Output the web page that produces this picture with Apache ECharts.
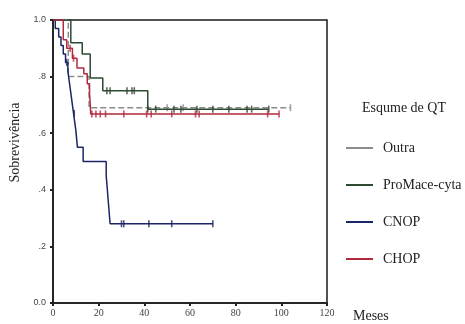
<!DOCTYPE html>
<html><head><meta charset="utf-8">
<script src="https://cdn.jsdelivr.net/npm/echarts@6/dist/echarts.min.js"></script>
<style>html,body{margin:0;padding:0;background:#fff}#c{width:465px;height:324px}</style>
</head><body><div id="c"></div>
<script>
// Kaplan-Meier step curves (months, survival)
const outraT = [0, 6.7, 15.8, 104];
const outraS = [1, 0.80, 0.69, 0.69];
const outraCens = [50, 57, 104];

const promaceT = [0, 7.8, 12.8, 16.3, 21.8, 41.5, 94.5];
const promaceS = [1, 0.92, 0.88, 0.795, 0.75, 0.685, 0.685];
const promaceCens = [23.6, 25, 32.4, 34.6, 35.6, 41.5, 45, 53, 56, 63, 70, 77, 85, 87, 94.5];

const cnopT = [0, 1, 2.5, 3.5, 4.5, 5.5, 6.5, 7, 7.5, 8, 8.5, 9, 9.5, 10, 10.7, 13.2, 23.3, 23.8, 24.4, 25, 70];
const cnopS = [1, 0.97, 0.94, 0.91, 0.88, 0.85, 0.82, 0.79, 0.76, 0.73, 0.70, 0.67, 0.64, 0.61, 0.55, 0.50, 0.45, 0.40, 0.34, 0.28, 0.28];
const cnopCens = [6, 9.3, 30, 31, 42, 52, 70];

const chopT = [0, 4.5, 6, 8.5, 10.5, 13.5, 15, 16, 16.3, 16.5, 99];
const chopS = [1, 0.93, 0.90, 0.865, 0.83, 0.81, 0.775, 0.74, 0.705, 0.668, 0.668];
const chopCens = [7.5, 9, 17, 18.8, 20.7, 23, 31, 41, 43, 52, 62.4, 64, 94, 99];

const groupNames = ['Outra', 'ProMace-cyta', 'CNOP', 'CHOP'];
const groupColors = ['#8c8c8c', '#2f4a32', '#1c2566', '#b02a3e'];
const xTicks = [0, 20, 40, 60, 80, 100, 120];
const yTickLabels = {'0': '0.0', '0.2': '.2', '0.4': '.4', '0.6': '.6', '0.8': '.8', '1': '1.0'};

function pairs(t, s) { return t.map((v, i) => [v, s[i]]); }
function at(t, s, x) { let v = s[0]; for (let i = 0; i < t.length; i++) { if (t[i] <= x) v = s[i]; } return v; }
function cens(t, s, c) { return c.map(x => [x, at(t, s, x)]); }

const groups = [
  [outraT, outraS, outraCens, 'dashed'],
  [promaceT, promaceS, promaceCens, 'solid'],
  [cnopT, cnopS, cnopCens, 'solid'],
  [chopT, chopS, chopCens, 'solid']
];

const series = [];
groups.forEach((g, i) => {
  series.push({
    name: groupNames[i], type: 'line', step: 'end', data: pairs(g[0], g[1]),
    showSymbol: false, symbol: 'none', color: groupColors[i],
    lineStyle: { width: 1.5, type: g[3], color: groupColors[i] }, z: 3 + i
  });
  series.push({
    name: groupNames[i], type: 'scatter', data: cens(g[0], g[1], g[2]),
    symbol: 'rect', symbolSize: [1.6, 7], itemStyle: { color: groupColors[i] }, z: 3 + i,
    silent: true
  });
});

const chart = echarts.init(document.getElementById('c'), null, { renderer: 'canvas' });
chart.setOption({
  animation: false,
  backgroundColor: '#fff',
  grid: { left: 53, right: 138, top: 20, bottom: 21, show: true, borderColor: '#1a1a1a', borderWidth: 1.5, backgroundColor: 'transparent' },
  xAxis: {
    type: 'value', min: 0, max: 120, interval: 20,
    name: 'Meses', nameLocation: 'end', nameGap: 26,
    nameTextStyle: { fontFamily: 'Liberation Serif', fontSize: 14, color: '#222', verticalAlign: 'top', padding: [6, 0, 0, 0] },
    axisLine: { lineStyle: { color: '#1a1a1a', width: 1.5 } },
    axisTick: { length: 3, lineStyle: { color: '#222', width: 2 } },
    axisLabel: { fontFamily: 'Liberation Serif', fontSize: 10, color: '#444', margin: 5 },
    splitLine: { show: false }
  },
  yAxis: {
    type: 'value', min: 0, max: 1, interval: 0.2,
    name: 'Sobrevivência', nameLocation: 'middle', nameGap: 30, nameRotate: 90,
    nameTextStyle: { fontFamily: 'Liberation Serif', fontSize: 14, color: '#222', padding: [0, 0, 0, 38] },
    axisLine: { lineStyle: { color: '#1a1a1a', width: 1.5 } },
    axisTick: { length: 3, lineStyle: { color: '#222', width: 2 } },
    axisLabel: { fontFamily: 'Liberation Sans', fontSize: 9, color: '#444', margin: 7,
      formatter: v => yTickLabels[String(Math.round(v * 10) / 10)] },
    splitLine: { show: false }
  },
  title: {
    text: 'Esqume de QT', left: 357, top: 96,
    textStyle: { fontFamily: 'Liberation Serif', fontSize: 14, fontWeight: 'normal', color: '#222' }
  },
  legend: {
    orient: 'vertical', left: 341, top: 136, itemWidth: 27, itemHeight: 2, itemGap: 23,
    icon: 'rect',
    data: groupNames.map(n => ({ name: n })),
    textStyle: { fontFamily: 'Liberation Serif', fontSize: 14, color: '#222', padding: [0, 0, 0, 5] }
  },
  series: series
});
</script></body></html>
